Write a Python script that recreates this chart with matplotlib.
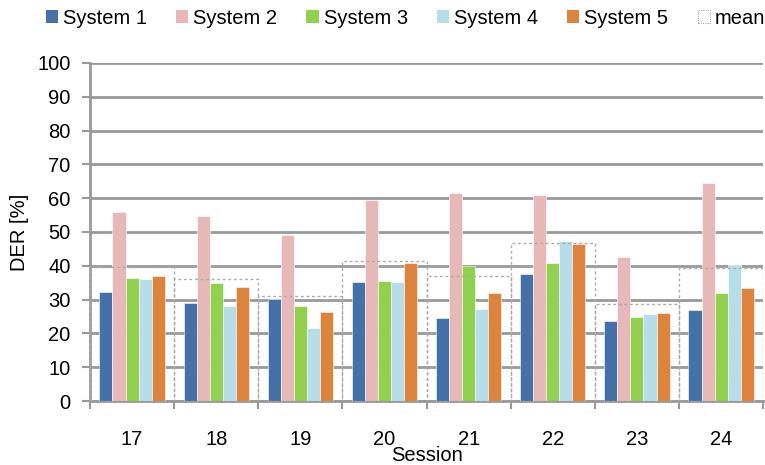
import matplotlib
matplotlib.use('Agg')
import matplotlib.pyplot as plt
import numpy as np
from matplotlib.patches import Patch

plt.rcParams['font.family'] = ['Liberation Sans', 'DejaVu Sans']

sessions = ['17', '18', '19', '20', '21', '22', '23', '24']
system1 = [32.3, 29.0, 30.3, 35.2, 24.7, 37.5, 23.6, 26.8]
system2 = [56.0, 54.8, 49.0, 59.4, 61.6, 60.8, 42.7, 64.5]
system3 = [36.4, 34.8, 28.2, 35.5, 39.8, 40.7, 24.9, 31.9]
system4 = [36.1, 28.0, 21.5, 35.2, 27.3, 47.4, 25.8, 40.2]
system5 = [37.0, 33.7, 26.4, 40.9, 31.9, 46.4, 26.1, 33.5]
means = [39.6, 36.1, 31.1, 41.3, 37.1, 46.6, 28.6, 39.4]

names = ['System 1', 'System 2', 'System 3', 'System 4', 'System 5']
colors = ['#4472a8', '#e6b8b7', '#92d050', '#b7dee8', '#dc843e']
grey = '#999999'

fig = plt.figure(figsize=(7.65, 4.65), dpi=100)
ax = fig.add_axes([0.1176, 0.1376, 0.88, 0.727])

x = np.arange(len(sessions))
bw = 0.155
series = [system1, system2, system3, system4, system5]
for i, (vals, c) in enumerate(zip(series, colors)):
    ax.bar(x + (i - 2) * bw, vals, width=bw, color=c, edgecolor='white',
           linewidth=0.4, zorder=3)

# mean boxes spanning the whole category
ax.bar(x, means, width=1.0, fill=False, edgecolor='#aaaaaa', linestyle=(0, (2, 2)),
       linewidth=1.0, zorder=4)

ax.set_xlim(-0.5, len(sessions) - 0.5)
ax.set_ylim(0, 100)
ax.set_yticks(np.arange(0, 101, 10))
ax.set_xticks(x)
ax.set_xticklabels(sessions)
ax.set_xticks(np.arange(-0.5, len(sessions), 1), minor=True)
ax.tick_params(axis='x', which='major', length=0, pad=21, labelsize=14.5)
ax.tick_params(axis='x', which='minor', length=6, width=1.5, color=grey)
ax.tick_params(axis='y', length=6, width=1.5, color=grey, labelsize=14.5, pad=8)

ax.yaxis.grid(True, color=grey, linewidth=2, zorder=0)
ax.set_axisbelow(True)
for s in ['top', 'right']:
    ax.spines[s].set_visible(False)
for s in ['left', 'bottom']:
    ax.spines[s].set_color(grey)
    ax.spines[s].set_linewidth(2)

ax.set_ylabel('DER [%]', fontsize=14.5, labelpad=6)
ax.set_xlabel('Session', fontsize=14.5, labelpad=-2)

handles = [Patch(facecolor=c, edgecolor='none') for c in colors]
handles.append(Patch(facecolor='none', edgecolor='#aaaaaa', linestyle=(0, (1, 1)), linewidth=0.8))
fig.legend(handles, names + ['mean'], loc='upper center', bbox_to_anchor=(0.53, 1.02),
           ncol=6, frameon=False, fontsize=14.5, handlelength=0.6, handleheight=0.6,
           handletextpad=0.25, columnspacing=1.45)

fig.savefig('out.png', dpi=100)
